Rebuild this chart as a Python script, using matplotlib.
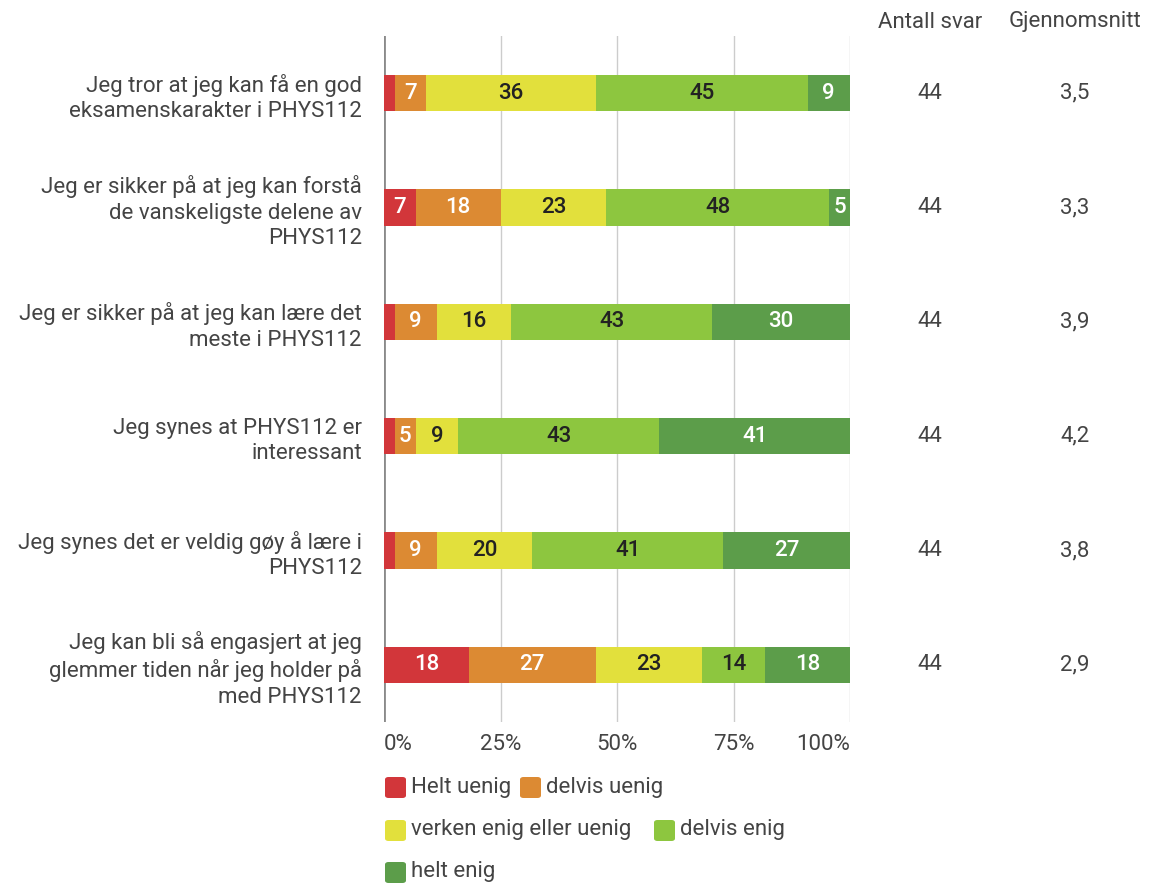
import matplotlib
matplotlib.use("Agg")
import matplotlib.pyplot as plt
import matplotlib.transforms as mtransforms
from matplotlib.patches import FancyBboxPatch

plt.rcParams['font.family'] = ['Roboto', 'DejaVu Sans']

questions = [
    "Jeg tror at jeg kan få en god\neksamenskarakter i PHYS112",
    "Jeg er sikker på at jeg kan forstå\nde vanskeligste delene av\nPHYS112",
    "Jeg er sikker på at jeg kan lære det\nmeste i PHYS112",
    "Jeg synes at PHYS112 er\ninteressant",
    "Jeg synes det er veldig gøy å lære i\nPHYS112",
    "Jeg kan bli så engasjert at jeg\nglemmer tiden når jeg holder på\nmed PHYS112",
]
categories = ["Helt uenig", "delvis uenig", "verken enig eller uenig", "delvis enig", "helt enig"]
helt_uenig = [2.27, 6.82, 2.27, 2.27, 2.27, 18.18]
delvis_uenig = [6.82, 18.18, 9.09, 4.55, 9.09, 27.27]
verken = [36.36, 22.73, 15.91, 9.09, 20.45, 22.73]
delvis_enig = [45.45, 47.73, 43.18, 43.18, 40.91, 13.64]
helt_enig = [9.09, 4.55, 29.55, 40.91, 27.27, 18.18]
antall_svar = [44, 44, 44, 44, 44, 44]
gjennomsnitt = ["3,5", "3,3", "3,9", "4,2", "3,8", "2,9"]
xticks = [0, 25, 50, 75, 100]
xticklabels = ["0%", "25%", "50%", "75%", "100%"]

series = [helt_uenig, delvis_uenig, verken, delvis_enig, helt_enig]
colors = ["#d2363a", "#dc8a33", "#e2e03c", "#8dc63f", "#5c9d4a"]
text_colors = ["white", "white", "#222222", "#222222", "white"]
txt = "#444444"
FS = 16

W, H = 1154, 885
fig = plt.figure(figsize=(W / 100, H / 100), dpi=100)
fig.patch.set_facecolor("white")
ax = fig.add_axes([384 / W, 1 - 722 / H, (850 - 384) / W, (722 - 36) / H])

n = len(questions)
ypos = list(range(n))
left = [0.0] * n
for s, vals in enumerate(series):
    ax.barh(ypos, vals, left=left, height=0.315, color=colors[s], zorder=3, linewidth=0)
    for i, v in enumerate(vals):
        if v >= 3:
            ax.text(left[i] + v / 2, i, f"{round(v)}", ha="center", va="center",
                    color=text_colors[s], fontsize=FS, fontweight="medium", zorder=4)
    left = [left[i] + vals[i] for i in range(n)]

ax.set_xlim(0, 100)
ax.set_ylim(n - 0.5, -0.5)
for sp in ax.spines.values():
    sp.set_visible(False)
for x in xticks:
    if x == 0:
        ax.axvline(x, color="#8a8a8a", lw=2.0, zorder=2)
    else:
        ax.axvline(x, color="#cccccc", lw=1.0, zorder=1)

ax.set_xticks(xticks)
ax.set_xticklabels(xticklabels, fontsize=FS, color=txt)
ax.tick_params(axis="x", length=0, pad=9)
tl = ax.get_xticklabels()
tl[0].set_ha("left")
tl[-1].set_ha("right")

ax.set_yticks(ypos)
ax.set_yticklabels(questions, fontsize=FS, color=txt)
for t in ax.get_yticklabels():
    t.set_linespacing(1.28)
ax.tick_params(axis="y", length=0, pad=16)

# Right-side columns
fig.text(930 / W, 1 - 22 / H, "Antall svar", ha="center", va="center", fontsize=FS, color=txt)
fig.text(1075 / W, 1 - 22 / H, "Gjennomsnitt", ha="center", va="center", fontsize=FS, color=txt)
col_trans = mtransforms.blended_transform_factory(
    mtransforms.Affine2D().scale(1 / W, 1) + fig.transFigure, ax.transData)
for i in range(n):
    ax.text(930, i, str(antall_svar[i]), ha="center", va="center", fontsize=FS, color=txt,
            transform=col_trans, clip_on=False)
    ax.text(1075, i, gjennomsnitt[i], ha="center", va="center", fontsize=FS, color=txt,
            transform=col_trans, clip_on=False)

# Legend (flow layout)
legend_items = [
    (0, 384, 787), (1, 519, 787),
    (2, 384, 830), (3, 653, 830),
    (4, 384, 872),
]
for idx, px, py in legend_items:
    box = FancyBboxPatch(((px + 1) / W, 1 - (py + 11) / H), 21 / W, 21 / H,
                         boxstyle="round,pad=0,rounding_size=0.003",
                         transform=fig.transFigure, facecolor=colors[idx], edgecolor="none")
    fig.add_artist(box)
    fig.text((px + 27) / W, 1 - py / H, categories[idx], ha="left", va="center",
             fontsize=FS, color=txt)

fig.savefig("out.png", dpi=100, facecolor="white")
